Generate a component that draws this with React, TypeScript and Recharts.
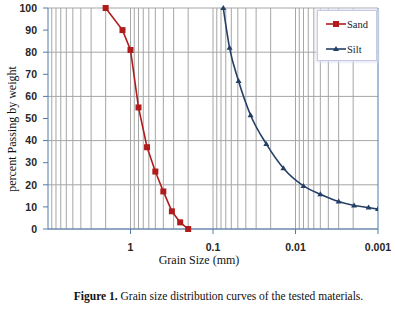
import { CartesianGrid, Line, LineChart, ReferenceLine, XAxis, YAxis } from "recharts";

// grain size (mm) and percent passing
const sandSize = [2.0, 1.25, 1.0, 0.8, 0.63, 0.5, 0.4, 0.315, 0.25, 0.2];
const sandPassing = [100, 90, 81, 55, 37, 26, 17, 8, 3, 0];

const siltSize = [0.075, 0.063, 0.049, 0.035, 0.0226, 0.014, 0.008, 0.005, 0.003, 0.00195, 0.0013, 0.001];
const siltPassing = [100, 82, 67, 51.5, 38.5, 27.5, 19.5, 15.7, 12.4, 10.6, 9.7, 9];

const xTicks = [1, 0.1, 0.01, 0.001];
const yTicks = [0, 10, 20, 30, 40, 50, 60, 70, 80, 90, 100];
const decades = [0.001, 0.01, 0.1, 1];
const minorSteps = [2, 3, 4, 5, 6, 7, 8, 9];

const sandData = sandSize.map((size, i) => ({ size, passing: sandPassing[i] }));
const siltData = siltSize.map((size, i) => ({ size, passing: siltPassing[i] }));
const gridValues = decades.flatMap((d) => minorSteps.map((m) => d * m)).concat([0.01, 0.1, 1]);

const SAND = "#b01c1c";
const SILT = "#243f66";
const AXIS = "#4f7cb0";
const GRID = "#a6a6a6";

const tickStyle = { fontFamily: "Liberation Sans", fontSize: 10.5, fontWeight: 600, fill: "#262626" };

const Square = (props: any) => {
  const { cx, cy } = props;
  if (cx == null || cy == null) return null;
  return <rect x={cx - 3} y={cy - 3} width={6} height={6} fill={SAND} />;
};

const Triangle = (props: any) => {
  const { cx, cy } = props;
  if (cx == null || cy == null) return null;
  return <path d={`M${cx},${cy - 3} L${cx + 3},${cy + 2} L${cx - 3},${cy + 2} Z`} fill={SILT} />;
};

const LegendBox = () => (
  <div
    style={{
      position: "absolute",
      left: 317,
      top: 10,
      width: 58,
      height: 49,
      border: "1px solid #c9cbe6",
      boxShadow: "0 0 3px 1px #dcdff2",
      background: "#fff",
    }}
  >
    <svg width={58} height={49} style={{ position: "absolute", left: 0, top: 0 }}>
      <line x1={8} x2={28} y1={13} y2={13} stroke={SAND} strokeWidth={1.6} />
      <rect x={15} y={10} width={6} height={6} fill={SAND} />
      <text x={29} y={16.5} fontFamily="Liberation Serif" fontSize={10.5} fill="#222">Sand</text>
      <line x1={8} x2={28} y1={38} y2={38} stroke={SILT} strokeWidth={1.6} />
      <path d="M18,35 L21,40 L15,40 Z" fill={SILT} />
      <text x={29} y={41.5} fontFamily="Liberation Serif" fontSize={10.5} fill="#222">Silt</text>
    </svg>
  </div>
);

export default function App() {
  return (
    <div style={{ position: "absolute", left: 0, top: 0, width: 395, height: 309, background: "#fff" }}>
      <LineChart width={395} height={275} margin={{ top: 8, right: 17, left: 0, bottom: 0 }}>
        <CartesianGrid vertical={false} stroke={GRID} />
        {gridValues.map((v) => (
          <ReferenceLine key={v} x={v} stroke={GRID} strokeWidth={1} />
        ))}
        <ReferenceLine x={0.001} stroke={AXIS} strokeWidth={1} />
        <XAxis
          dataKey="size"
          type="number"
          scale="log"
          domain={[0.001, 10]}
          reversed
          allowDataOverflow
          ticks={xTicks}
          tickFormatter={(v) => String(v)}
          height={46}
          tickSize={5}
          tickMargin={10}
          stroke={AXIS}
          tick={tickStyle}
        />
        <YAxis
          type="number"
          domain={[0, 100]}
          ticks={yTicks}
          width={48}
          tickSize={5}
          tickMargin={6}
          stroke={AXIS}
          tick={tickStyle}
        />
        <Line
          data={sandData}
          dataKey="passing"
          name="Sand"
          type="linear"
          stroke={SAND}
          strokeWidth={1.6}
          dot={<Square />}
          activeDot={false}
          isAnimationActive={false}
        />
        <Line
          data={siltData}
          dataKey="passing"
          name="Silt"
          type="monotone"
          stroke={SILT}
          strokeWidth={1.6}
          dot={<Triangle />}
          activeDot={false}
          isAnimationActive={false}
        />
      </LineChart>
      <LegendBox />
      <svg width={395} height={309} style={{ position: "absolute", left: 0, top: 0, pointerEvents: "none" }}>
        <text x={199} y={264} textAnchor="middle" fontFamily="Liberation Serif" fontSize={12} fill="#111">
          Grain Size (mm)
        </text>
        <text
          x={16}
          y={129}
          textAnchor="middle"
          transform="rotate(-90 16 129)"
          fontFamily="Liberation Serif"
          fontSize={12}
          fill="#111"
        >
          percent Passing by weight
        </text>
        <text x={218.5} y={300} textAnchor="middle" fontFamily="Liberation Serif" fontSize={11.5} fill="#111">
          <tspan fontWeight="bold">Figure 1.</tspan> Grain size distribution curves of the tested materials.
        </text>
      </svg>
    </div>
  );
}
